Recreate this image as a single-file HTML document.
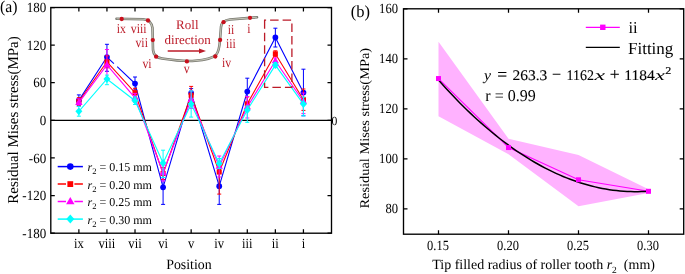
<!DOCTYPE html><html><head><meta charset="utf-8"><style>html,body{margin:0;padding:0;background:#fff;overflow:hidden}svg{display:block;will-change:transform;text-rendering:geometricPrecision}</style></head><body><svg width="685" height="274" viewBox="0 0 685 274" font-family="Liberation Serif">
<rect width="685" height="274" fill="#fff"/>
<line x1="50.8" y1="120.35" x2="331.5" y2="120.35" stroke="#000" stroke-width="1.3"/>
<polyline points="78.87,100.40 106.94,57.00 113.90,63.57" fill="none" stroke="#0000ff" stroke-width="1.1"/>
<polyline points="117.20,66.69 135.01,83.50 163.08,187.30 191.15,93.00 219.22,186.20 247.29,91.50 275.36,37.40 303.43,92.50" fill="none" stroke="#0000ff" stroke-width="1.1"/>
<path d="M78.87,94.90V105.90M76.87,94.90h4M76.87,105.90h4" stroke="#0000ff" stroke-width="1.0" fill="none"/>
<path d="M106.94,44.30V71.30M104.94,44.30h4M104.94,71.30h4" stroke="#0000ff" stroke-width="1.0" fill="none"/>
<path d="M135.01,77.00V90.00M133.01,77.00h4M133.01,90.00h4" stroke="#0000ff" stroke-width="1.0" fill="none"/>
<path d="M163.08,172.00V204.40M161.08,172.00h4M161.08,204.40h4" stroke="#0000ff" stroke-width="1.0" fill="none"/>
<path d="M191.15,88.60V97.40M189.15,88.60h4M189.15,97.40h4" stroke="#0000ff" stroke-width="1.0" fill="none"/>
<path d="M219.22,169.00V204.40M217.22,169.00h4M217.22,204.40h4" stroke="#0000ff" stroke-width="1.0" fill="none"/>
<path d="M247.29,78.20V104.80M245.29,78.20h4M245.29,104.80h4" stroke="#0000ff" stroke-width="1.0" fill="none"/>
<path d="M275.36,28.20V47.00M273.36,28.20h4M273.36,47.00h4" stroke="#0000ff" stroke-width="1.0" fill="none"/>
<path d="M303.43,69.20V115.80M301.43,69.20h4M301.43,115.80h4" stroke="#0000ff" stroke-width="1.0" fill="none"/>
<circle cx="78.87" cy="100.40" r="2.87" fill="#0000ff"/>
<circle cx="106.94" cy="57.00" r="2.87" fill="#0000ff"/>
<circle cx="135.01" cy="83.50" r="2.87" fill="#0000ff"/>
<circle cx="163.08" cy="187.30" r="2.87" fill="#0000ff"/>
<circle cx="191.15" cy="93.00" r="2.87" fill="#0000ff"/>
<circle cx="219.22" cy="186.20" r="2.87" fill="#0000ff"/>
<circle cx="247.29" cy="91.50" r="2.87" fill="#0000ff"/>
<circle cx="275.36" cy="37.40" r="2.87" fill="#0000ff"/>
<circle cx="303.43" cy="92.50" r="2.87" fill="#0000ff"/>
<polyline points="78.87,101.50 106.94,61.80 135.01,92.70 163.08,173.50 191.15,95.20 219.22,172.00 247.29,103.80 275.36,53.80 303.43,99.70" fill="none" stroke="#ff0000" stroke-width="1.1"/>
<path d="M78.87,97.70V105.30M76.87,97.70h4M76.87,105.30h4" stroke="#ff0000" stroke-width="1.0" fill="none"/>
<path d="M106.94,55.80V67.80M104.94,55.80h4M104.94,67.80h4" stroke="#ff0000" stroke-width="1.0" fill="none"/>
<path d="M135.01,88.30V97.10M133.01,88.30h4M133.01,97.10h4" stroke="#ff0000" stroke-width="1.0" fill="none"/>
<path d="M163.08,167.50V179.50M161.08,167.50h4M161.08,179.50h4" stroke="#ff0000" stroke-width="1.0" fill="none"/>
<path d="M191.15,86.40V104.00M189.15,86.40h4M189.15,104.00h4" stroke="#ff0000" stroke-width="1.0" fill="none"/>
<path d="M219.22,165.00V194.10M217.22,165.00h4M217.22,194.10h4" stroke="#ff0000" stroke-width="1.0" fill="none"/>
<path d="M247.29,97.00V110.60M245.29,97.00h4M245.29,110.60h4" stroke="#ff0000" stroke-width="1.0" fill="none"/>
<path d="M275.36,50.80V56.80M273.36,50.80h4M273.36,56.80h4" stroke="#ff0000" stroke-width="1.0" fill="none"/>
<path d="M303.43,89.00V110.40M301.43,89.00h4M301.43,110.40h4" stroke="#ff0000" stroke-width="1.0" fill="none"/>
<rect x="76.35" y="98.98" width="5.05" height="5.05" fill="#ff0000"/>
<rect x="104.42" y="59.28" width="5.05" height="5.05" fill="#ff0000"/>
<rect x="132.49" y="90.18" width="5.05" height="5.05" fill="#ff0000"/>
<rect x="160.56" y="170.98" width="5.05" height="5.05" fill="#ff0000"/>
<rect x="188.63" y="92.68" width="5.05" height="5.05" fill="#ff0000"/>
<rect x="216.70" y="169.48" width="5.05" height="5.05" fill="#ff0000"/>
<rect x="244.77" y="101.28" width="5.05" height="5.05" fill="#ff0000"/>
<rect x="272.84" y="51.28" width="5.05" height="5.05" fill="#ff0000"/>
<rect x="300.91" y="97.18" width="5.05" height="5.05" fill="#ff0000"/>
<polyline points="78.87,102.60 106.94,65.00 135.01,97.80 163.08,173.00 191.15,99.60 219.22,166.50 247.29,106.90 275.36,61.00 303.43,101.50" fill="none" stroke="#ff00ff" stroke-width="1.1"/>
<path d="M78.87,98.80V106.40M76.87,98.80h4M76.87,106.40h4" stroke="#ff00ff" stroke-width="1.0" fill="none"/>
<path d="M106.94,49.50V80.50M104.94,49.50h4M104.94,80.50h4" stroke="#ff00ff" stroke-width="1.0" fill="none"/>
<path d="M135.01,93.40V102.20M133.01,93.40h4M133.01,102.20h4" stroke="#ff00ff" stroke-width="1.0" fill="none"/>
<path d="M163.08,165.00V181.00M161.08,165.00h4M161.08,181.00h4" stroke="#ff00ff" stroke-width="1.0" fill="none"/>
<path d="M191.15,90.80V108.40M189.15,90.80h4M189.15,108.40h4" stroke="#ff00ff" stroke-width="1.0" fill="none"/>
<path d="M219.22,156.00V177.00M217.22,156.00h4M217.22,177.00h4" stroke="#ff00ff" stroke-width="1.0" fill="none"/>
<path d="M247.29,96.50V118.00M245.29,96.50h4M245.29,118.00h4" stroke="#ff00ff" stroke-width="1.0" fill="none"/>
<path d="M275.36,58.00V64.00M273.36,58.00h4M273.36,64.00h4" stroke="#ff00ff" stroke-width="1.0" fill="none"/>
<path d="M303.43,93.00V113.60M301.43,93.00h4M301.43,113.60h4" stroke="#ff00ff" stroke-width="1.0" fill="none"/>
<polygon points="78.87,98.60 82.52,104.95 75.22,104.95" fill="#ff00ff"/>
<polygon points="106.94,61.00 110.59,67.35 103.29,67.35" fill="#ff00ff"/>
<polygon points="135.01,93.80 138.66,100.15 131.36,100.15" fill="#ff00ff"/>
<polygon points="163.08,169.00 166.73,175.35 159.43,175.35" fill="#ff00ff"/>
<polygon points="191.15,95.60 194.80,101.95 187.50,101.95" fill="#ff00ff"/>
<polygon points="219.22,162.50 222.87,168.85 215.57,168.85" fill="#ff00ff"/>
<polygon points="247.29,102.90 250.94,109.25 243.64,109.25" fill="#ff00ff"/>
<polygon points="275.36,57.00 279.01,63.35 271.71,63.35" fill="#ff00ff"/>
<polygon points="303.43,97.50 307.08,103.85 299.78,103.85" fill="#ff00ff"/>
<polyline points="78.87,111.30 106.94,79.00 135.01,100.70 163.08,163.00 191.15,104.00 219.22,163.50 247.29,110.00 275.36,65.10 303.43,104.10" fill="none" stroke="#00ffff" stroke-width="1.1"/>
<path d="M78.87,106.40V116.20M76.87,106.40h4M76.87,116.20h4" stroke="#00ffff" stroke-width="1.0" fill="none"/>
<path d="M106.94,75.10V84.70M104.94,75.10h4M104.94,84.70h4" stroke="#00ffff" stroke-width="1.0" fill="none"/>
<path d="M135.01,96.90V104.50M133.01,96.90h4M133.01,104.50h4" stroke="#00ffff" stroke-width="1.0" fill="none"/>
<path d="M163.08,150.20V177.50M161.08,150.20h4M161.08,177.50h4" stroke="#00ffff" stroke-width="1.0" fill="none"/>
<path d="M191.15,90.90V117.10M189.15,90.90h4M189.15,117.10h4" stroke="#00ffff" stroke-width="1.0" fill="none"/>
<path d="M219.22,158.50V168.50M217.22,158.50h4M217.22,168.50h4" stroke="#00ffff" stroke-width="1.0" fill="none"/>
<path d="M247.29,106.00V122.30M245.29,106.00h4M245.29,122.30h4" stroke="#00ffff" stroke-width="1.0" fill="none"/>
<path d="M275.36,62.60V67.60M273.36,62.60h4M273.36,67.60h4" stroke="#00ffff" stroke-width="1.0" fill="none"/>
<path d="M303.43,97.00V115.80M301.43,97.00h4M301.43,115.80h4" stroke="#00ffff" stroke-width="1.0" fill="none"/>
<polygon points="78.87,107.38 82.35,111.30 78.87,115.22 75.39,111.30" fill="#00ffff"/>
<polygon points="106.94,75.08 110.42,79.00 106.94,82.92 103.46,79.00" fill="#00ffff"/>
<polygon points="135.01,96.78 138.49,100.70 135.01,104.62 131.53,100.70" fill="#00ffff"/>
<polygon points="163.08,159.09 166.56,163.00 163.08,166.91 159.60,163.00" fill="#00ffff"/>
<polygon points="191.15,100.08 194.63,104.00 191.15,107.92 187.67,104.00" fill="#00ffff"/>
<polygon points="219.22,159.59 222.70,163.50 219.22,167.41 215.74,163.50" fill="#00ffff"/>
<polygon points="247.29,106.08 250.77,110.00 247.29,113.92 243.81,110.00" fill="#00ffff"/>
<polygon points="275.36,61.18 278.84,65.10 275.36,69.02 271.88,65.10" fill="#00ffff"/>
<polygon points="303.43,100.18 306.91,104.10 303.43,108.02 299.95,104.10" fill="#00ffff"/>
<rect x="50.8" y="7.5" width="280.70" height="225.70" fill="none" stroke="#000" stroke-width="1.35"/>
<path d="M78.87,233.2v-4M78.87,7.5v4M106.94,233.2v-4M106.94,7.5v4M135.01,233.2v-4M135.01,7.5v4M163.08,233.2v-4M163.08,7.5v4M191.15,233.2v-4M191.15,7.5v4M219.22,233.2v-4M219.22,7.5v4M247.29,233.2v-4M247.29,7.5v4M275.36,233.2v-4M275.36,7.5v4M303.43,233.2v-4M303.43,7.5v4M50.8,233.20h4M331.5,233.20h-4M50.8,195.58h4M331.5,195.58h-4M50.8,157.97h4M331.5,157.97h-4M50.8,120.35h4M331.5,120.35h-4M50.8,82.73h4M331.5,82.73h-4M50.8,45.12h4M331.5,45.12h-4M50.8,7.50h4M331.5,7.50h-4" stroke="#000" stroke-width="1.25" fill="none"/>
<text transform="translate(46.20,237.80) scale(0.93,1)" font-size="14" text-anchor="end">-180</text>
<text transform="translate(46.20,200.18) scale(0.93,1)" font-size="14" text-anchor="end">-120</text>
<text transform="translate(46.20,162.57) scale(0.93,1)" font-size="14" text-anchor="end">-60</text>
<text transform="translate(46.20,124.95) scale(0.93,1)" font-size="14" text-anchor="end">0</text>
<text transform="translate(46.20,87.33) scale(0.93,1)" font-size="14" text-anchor="end">60</text>
<text transform="translate(46.20,49.72) scale(0.93,1)" font-size="14" text-anchor="end">120</text>
<text transform="translate(46.20,12.10) scale(0.93,1)" font-size="14" text-anchor="end">180</text>
<text transform="translate(331.60,124.75) scale(0.93,1)" font-size="12.5">0</text>
<text transform="translate(78.87,248.20) scale(0.9,1)" font-size="14" text-anchor="middle">ix</text>
<text transform="translate(106.94,248.20) scale(0.9,1)" font-size="14" text-anchor="middle">viii</text>
<text transform="translate(135.01,248.20) scale(0.9,1)" font-size="14" text-anchor="middle">vii</text>
<text transform="translate(163.08,248.20) scale(0.9,1)" font-size="14" text-anchor="middle">vi</text>
<text transform="translate(191.15,248.20) scale(0.9,1)" font-size="14" text-anchor="middle">v</text>
<text transform="translate(219.22,248.20) scale(0.9,1)" font-size="14" text-anchor="middle">iv</text>
<text transform="translate(247.29,248.20) scale(0.9,1)" font-size="14" text-anchor="middle">iii</text>
<text transform="translate(275.36,248.20) scale(0.9,1)" font-size="14" text-anchor="middle">ii</text>
<text transform="translate(303.43,248.20) scale(0.9,1)" font-size="14" text-anchor="middle">i</text>
<text transform="translate(188.90,268.70) scale(0.97,1)" font-size="14.3" text-anchor="middle">Position</text>
<text transform="translate(18,120) rotate(-90)" font-size="15" text-anchor="middle">Residual Mises stress(MPa)</text>
<text transform="translate(0.00,11.80) scale(0.95,1)" font-size="16.6">(a)</text>
<line x1="57.7" y1="166.6" x2="82.9" y2="166.6" stroke="#0000ff" stroke-width="1.5"/>
<circle cx="70.30" cy="166.60" r="3.30" fill="#0000ff"/>
<text x="87.5" y="171.00" font-size="12"><tspan font-style="italic">r</tspan><tspan font-size="8.5" dy="3">2</tspan><tspan dy="-3"> = 0.15 mm</tspan></text>
<path d="M57.7,184.1H66M74.4,184.1H82.9" stroke="#ff0000" stroke-width="1.5"/>
<rect x="67.40" y="181.20" width="5.80" height="5.80" fill="#ff0000"/>
<text x="87.5" y="188.50" font-size="12"><tspan font-style="italic">r</tspan><tspan font-size="8.5" dy="3">2</tspan><tspan dy="-3"> = 0.20 mm</tspan></text>
<path d="M57.7,201.6H66M74.4,201.6H82.9" stroke="#ff00ff" stroke-width="1.5"/>
<polygon points="70.30,197.00 74.50,204.30 66.10,204.30" fill="#ff00ff"/>
<text x="87.5" y="206.00" font-size="12"><tspan font-style="italic">r</tspan><tspan font-size="8.5" dy="3">2</tspan><tspan dy="-3"> = 0.25 mm</tspan></text>
<line x1="57.7" y1="219.1" x2="82.9" y2="219.1" stroke="#00ffff" stroke-width="1.5"/>
<polygon points="70.30,214.60 74.30,219.10 70.30,223.60 66.30,219.10" fill="#00ffff"/>
<text x="87.5" y="223.50" font-size="12"><tspan font-style="italic">r</tspan><tspan font-size="8.5" dy="3">2</tspan><tspan dy="-3"> = 0.30 mm</tspan></text>
<path d="M116.5,18.8 L143,19.3 C149,19.5 151.5,22 152.5,28 L153,50 C153.5,55 156,57.5 162,58.5 C175,60.5 185,61.5 195,60.8 C205,60 212,58.5 216,55 C218.5,52 219.5,48 220,40 L221,27 C221.5,22 224,20.2 230,19.5 L257,17.3" fill="none" stroke="#77776f" stroke-width="2.6" stroke-linecap="round"/>
<path d="M116.5,18.8 L143,19.3 C149,19.5 151.5,22 152.5,28 L153,50 C153.5,55 156,57.5 162,58.5 C175,60.5 185,61.5 195,60.8 C205,60 212,58.5 216,55 C218.5,52 219.5,48 220,40 L221,27 C221.5,22 224,20.2 230,19.5 L257,17.3" fill="none" stroke="#c2c2b4" stroke-width="1.1"/>
<circle cx="121.7" cy="19.0" r="2.15" fill="#c90f1c"/>
<circle cx="148" cy="20.5" r="2.15" fill="#c90f1c"/>
<circle cx="152.8" cy="40.1" r="2.15" fill="#c90f1c"/>
<circle cx="156.1" cy="56.7" r="2.15" fill="#c90f1c"/>
<circle cx="186.9" cy="61.4" r="2.15" fill="#c90f1c"/>
<circle cx="215.3" cy="56.5" r="2.15" fill="#c90f1c"/>
<circle cx="220.1" cy="40.0" r="2.15" fill="#c90f1c"/>
<circle cx="223.5" cy="22.2" r="2.15" fill="#c90f1c"/>
<circle cx="250" cy="17.8" r="2.15" fill="#c90f1c"/>
<text transform="translate(121.20,33.30) scale(0.87,1)" font-size="13.5" text-anchor="middle" fill="#bc1b28">ix</text>
<text transform="translate(138.70,33.30) scale(0.87,1)" font-size="13.5" text-anchor="middle" fill="#bc1b28">viii</text>
<text transform="translate(141.70,47.40) scale(0.87,1)" font-size="13.5" text-anchor="middle" fill="#bc1b28">vii</text>
<text transform="translate(147.00,67.90) scale(0.87,1)" font-size="13.5" text-anchor="middle" fill="#bc1b28">vi</text>
<text transform="translate(186.70,73.10) scale(0.87,1)" font-size="13.5" text-anchor="middle" fill="#bc1b28">v</text>
<text transform="translate(226.60,66.80) scale(0.87,1)" font-size="13.5" text-anchor="middle" fill="#bc1b28">iv</text>
<text transform="translate(230.90,47.60) scale(0.87,1)" font-size="13.5" text-anchor="middle" fill="#bc1b28">iii</text>
<text transform="translate(230.90,33.60) scale(0.87,1)" font-size="13.5" text-anchor="middle" fill="#bc1b28">ii</text>
<text transform="translate(249.00,33.00) scale(0.87,1)" font-size="13.5" text-anchor="middle" fill="#bc1b28">i</text>
<text transform="translate(187.30,29.20)" font-size="13" text-anchor="middle" fill="#bc1b28">Roll</text>
<text transform="translate(187.70,43.60)" font-size="13" text-anchor="middle" fill="#bc1b28">direction</text>
<path d="M167.7,51H200" stroke="#bc1b28" stroke-width="1.6"/><polygon points="199,48.4 206,51 199,53.6" fill="#bc1b28"/>
<path d="M264.6,20.2V87.4H291.9V20.2Z" fill="none" stroke="#bc1b28" stroke-width="1.3" stroke-dasharray="8.5,4"/>
<polygon points="438.50,41.80 508.50,138.80 578.50,155.05 648.50,189.30 648.50,193.05 578.50,206.30 508.50,154.30 438.50,116.30" fill="#ffb2ff"/>
<polyline points="438.50,78.55 508.50,147.55 578.50,179.80 648.50,191.30" fill="none" stroke="#ff00ff" stroke-width="1.1"/>
<polyline points="438.50,80.10 442.06,84.08 445.62,87.99 449.18,91.83 452.74,95.60 456.30,99.29 459.86,102.91 463.42,106.46 466.97,109.94 470.53,113.34 474.09,116.68 477.65,119.93 481.21,123.12 484.77,126.24 488.33,129.28 491.89,132.25 495.45,135.15 499.01,137.97 502.57,140.72 506.13,143.40 509.69,146.01 513.25,148.55 516.81,151.01 520.36,153.40 523.92,155.72 527.48,157.96 531.04,160.14 534.60,162.24 538.16,164.27 541.72,166.22 545.28,168.11 548.84,169.92 552.40,171.66 555.96,173.33 559.52,174.92 563.08,176.44 566.64,177.89 570.19,179.27 573.75,180.57 577.31,181.81 580.87,182.97 584.43,184.05 587.99,185.07 591.55,186.01 595.11,186.88 598.67,187.68 602.23,188.40 605.79,189.06 609.35,189.64 612.91,190.15 616.47,190.58 620.03,190.95 623.58,191.24 627.14,191.46 630.70,191.60 634.26,191.68 637.82,191.68 641.38,191.61 644.94,191.47 648.50,191.25" fill="none" stroke="#000" stroke-width="1.5"/>
<rect x="436.00" y="76.05" width="5" height="5" fill="#ff00ff"/>
<rect x="506.00" y="145.05" width="5" height="5" fill="#ff00ff"/>
<rect x="576.00" y="177.30" width="5" height="5" fill="#ff00ff"/>
<rect x="646.00" y="188.80" width="5" height="5" fill="#ff00ff"/>
<rect x="403.5" y="8.8" width="280.20" height="225.40" fill="none" stroke="#000" stroke-width="1.35"/>
<path d="M438.50,234.2v-4M438.50,8.8v4M508.50,234.2v-4M508.50,8.8v4M578.50,234.2v-4M578.50,8.8v4M648.50,234.2v-4M648.50,8.8v4M403.5,208.80h4M683.7,208.80h-4M403.5,158.80h4M683.7,158.80h-4M403.5,108.80h4M683.7,108.80h-4M403.5,58.80h4M683.7,58.80h-4M403.5,8.80h4M683.7,8.80h-4" stroke="#000" stroke-width="1.25" fill="none"/>
<text transform="translate(398.00,213.40) scale(0.9,1)" font-size="14" text-anchor="end">80</text>
<text transform="translate(398.00,163.40) scale(0.9,1)" font-size="14" text-anchor="end">100</text>
<text transform="translate(398.00,113.40) scale(0.9,1)" font-size="14" text-anchor="end">120</text>
<text transform="translate(398.00,63.40) scale(0.9,1)" font-size="14" text-anchor="end">140</text>
<text transform="translate(398.00,13.40) scale(0.9,1)" font-size="14" text-anchor="end">160</text>
<text transform="translate(438.00,249.80) scale(0.89,1)" font-size="14" text-anchor="middle">0.15</text>
<text transform="translate(508.00,249.80) scale(0.89,1)" font-size="14" text-anchor="middle">0.20</text>
<text transform="translate(578.00,249.80) scale(0.89,1)" font-size="14" text-anchor="middle">0.25</text>
<text transform="translate(648.00,249.80) scale(0.89,1)" font-size="14" text-anchor="middle">0.30</text>
<text transform="translate(432.2,269.4)" font-size="14" xml:space="preserve">Tip filled radius of roller tooth <tspan font-style="italic">r</tspan><tspan font-size="9.5" dy="3.6">2</tspan><tspan dy="-3.6">  (mm)</tspan></text>
<text transform="translate(368.6,128.2) scale(0.93,1) rotate(-90)" font-size="14.4" text-anchor="middle">Residual Mises stress(MPa)</text>
<text transform="translate(350.80,16.60) scale(0.97,1)" font-size="17">(b)</text>
<line x1="585.8" y1="27.3" x2="619.8" y2="27.3" stroke="#ff00ff" stroke-width="1.2"/><rect x="600.1" y="24.6" width="5.4" height="5.4" fill="#ff00ff"/>
<text transform="translate(628.50,32.80)" font-size="16.5">ii</text>
<line x1="585.8" y1="47.4" x2="619.8" y2="47.4" stroke="#000" stroke-width="1.2"/>
<text transform="translate(628.00,54.00)" font-size="17">Fitting</text>
<text x="484.10" y="79.6" font-size="14.6" textLength="7.00" lengthAdjust="spacingAndGlyphs" font-style="italic">y</text>
<text x="497.20" y="79.6" font-size="17.5" textLength="9.90" lengthAdjust="spacingAndGlyphs" stroke="#000" stroke-width="0.12">=</text>
<text x="512.50" y="79.6" font-size="14.6" textLength="34.80" lengthAdjust="spacingAndGlyphs" stroke="#000" stroke-width="0.12">263.3</text>
<text x="552.00" y="79.6" font-size="17.5" textLength="9.10" lengthAdjust="spacingAndGlyphs" stroke="#000" stroke-width="0.12">−</text>
<text x="566.60" y="79.6" font-size="14.6" textLength="27.50" lengthAdjust="spacingAndGlyphs" stroke="#000" stroke-width="0.12">1162</text>
<text x="594.40" y="79.6" font-size="14.6" textLength="10.60" lengthAdjust="spacingAndGlyphs" font-style="italic">x</text>
<text x="609.70" y="79.6" font-size="17.5" textLength="9.90" lengthAdjust="spacingAndGlyphs" stroke="#000" stroke-width="0.12">+</text>
<text x="624.30" y="79.6" font-size="14.6" textLength="30.40" lengthAdjust="spacingAndGlyphs" stroke="#000" stroke-width="0.12">1184</text>
<text x="655.00" y="79.6" font-size="14.6" textLength="9.90" lengthAdjust="spacingAndGlyphs" font-style="italic">x</text>
<text x="665.2" y="74" font-size="10.5" stroke="#000" stroke-width="0.2" textLength="6" lengthAdjust="spacingAndGlyphs">2</text>
<text transform="translate(485.30,101.10) scale(0.97,1)" font-size="16.5">r = 0.99</text>
</svg></body></html>
